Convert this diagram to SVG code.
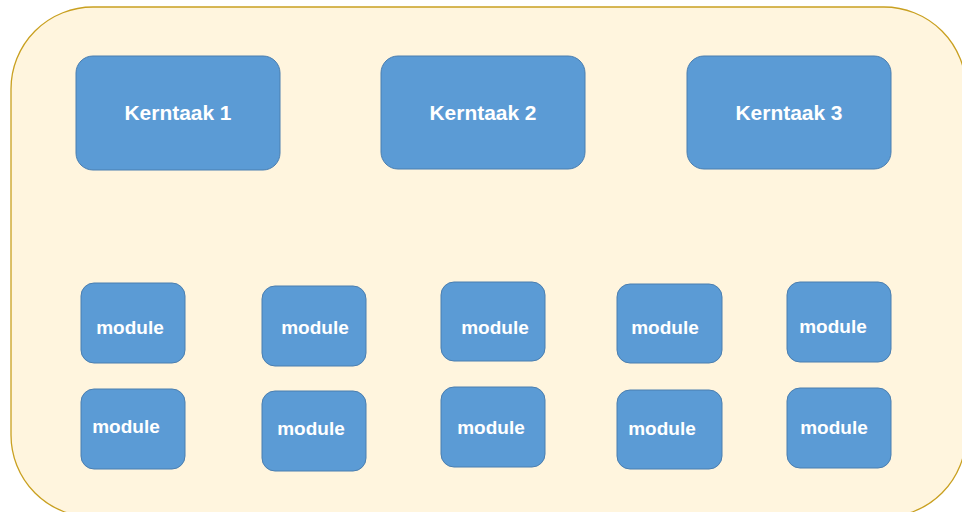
<svg xmlns="http://www.w3.org/2000/svg" width="962" height="512" viewBox="0 0 962 512">
<style>
.bg{fill:#FFF5DE;stroke:#C9A020;stroke-width:1.3}
.box{fill:#5B9BD5;stroke:#4A7EB0;stroke-width:1}
.kt{font-family:"Liberation Sans",Arial,sans-serif;font-weight:bold;font-size:21px;fill:#FFFFFF}
.md{font-family:"Liberation Sans",Arial,sans-serif;font-weight:bold;font-size:19px;fill:#FFFFFF}
</style>
<rect width="962" height="512" fill="#FFFFFF"/>
<rect class="bg" x="11" y="7" width="955" height="510" rx="82" ry="82"/>
<g id="kerntaak1"><rect class="box" x="76" y="56" width="204" height="114" rx="17"/><text class="kt" x="178" y="120" text-anchor="middle" textLength="107" lengthAdjust="spacingAndGlyphs">Kerntaak 1</text></g>
<g id="kerntaak2"><rect class="box" x="381" y="56" width="204" height="113" rx="17"/><text class="kt" x="483" y="120" text-anchor="middle" textLength="107" lengthAdjust="spacingAndGlyphs">Kerntaak 2</text></g>
<g id="kerntaak3"><rect class="box" x="687" y="56" width="204" height="113" rx="17"/><text class="kt" x="789" y="120" text-anchor="middle" textLength="107" lengthAdjust="spacingAndGlyphs">Kerntaak 3</text></g>
<g id="module1a"><rect class="box" x="81" y="283" width="104" height="80" rx="13"/><text class="md" x="130" y="334" text-anchor="middle">module</text></g>
<g id="module1b"><rect class="box" x="81" y="389" width="104" height="80" rx="13"/><text class="md" x="126" y="433" text-anchor="middle">module</text></g>
<g id="module2a"><rect class="box" x="262" y="286" width="104" height="80" rx="13"/><text class="md" x="315" y="334" text-anchor="middle">module</text></g>
<g id="module2b"><rect class="box" x="262" y="391" width="104" height="80" rx="13"/><text class="md" x="311" y="435" text-anchor="middle">module</text></g>
<g id="module3a"><rect class="box" x="441" y="282" width="104" height="79" rx="13"/><text class="md" x="495" y="334" text-anchor="middle">module</text></g>
<g id="module3b"><rect class="box" x="441" y="387" width="104" height="80" rx="13"/><text class="md" x="491" y="434" text-anchor="middle">module</text></g>
<g id="module4a"><rect class="box" x="617" y="284" width="105" height="79" rx="13"/><text class="md" x="665" y="334" text-anchor="middle">module</text></g>
<g id="module4b"><rect class="box" x="617" y="390" width="105" height="79" rx="13"/><text class="md" x="662" y="435" text-anchor="middle">module</text></g>
<g id="module5a"><rect class="box" x="787" y="282" width="104" height="80" rx="13"/><text class="md" x="833" y="333" text-anchor="middle">module</text></g>
<g id="module5b"><rect class="box" x="787" y="388" width="104" height="80" rx="13"/><text class="md" x="834" y="434" text-anchor="middle">module</text></g>
<g id="connectors"></g>
</svg>
